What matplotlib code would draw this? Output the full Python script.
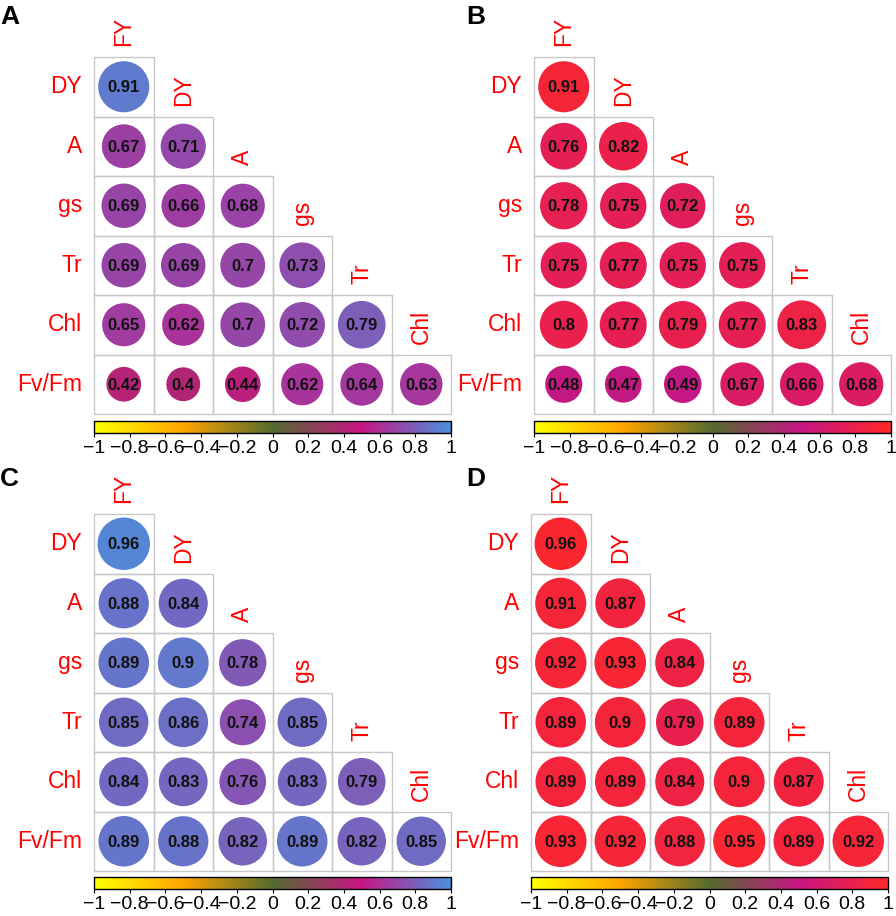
import numpy as np
import matplotlib
matplotlib.use("Agg")
from matplotlib import pyplot as plt
from matplotlib.patches import Circle, Rectangle
from matplotlib.colors import LinearSegmentedColormap, Normalize
from matplotlib.cm import ScalarMappable

plt.rcParams['font.family'] = ['Liberation Sans', 'DejaVu Sans']

# Variable names
rowLabels = ["DY", "A", "gs", "Tr", "Chl", "Fv/Fm"]
colLabels = ["FY", "DY", "A", "gs", "Tr", "Chl"]

# Lower triangle correlations, one list per row
corrA = [[0.91],
         [0.67, 0.71],
         [0.69, 0.66, 0.68],
         [0.69, 0.69, 0.7, 0.73],
         [0.65, 0.62, 0.7, 0.72, 0.79],
         [0.42, 0.4, 0.44, 0.62, 0.64, 0.63]]
corrB = [[0.91],
         [0.76, 0.82],
         [0.78, 0.75, 0.72],
         [0.75, 0.77, 0.75, 0.75],
         [0.8, 0.77, 0.79, 0.77, 0.83],
         [0.48, 0.47, 0.49, 0.67, 0.66, 0.68]]
corrC = [[0.96],
         [0.88, 0.84],
         [0.89, 0.9, 0.78],
         [0.85, 0.86, 0.74, 0.85],
         [0.84, 0.83, 0.76, 0.83, 0.79],
         [0.89, 0.88, 0.82, 0.89, 0.82, 0.85]]
corrD = [[0.96],
         [0.91, 0.87],
         [0.92, 0.93, 0.84],
         [0.89, 0.9, 0.79, 0.89],
         [0.89, 0.89, 0.84, 0.9, 0.87],
         [0.93, 0.92, 0.88, 0.95, 0.89, 0.92]]

cbTicks  = [-1, -0.8, -0.6, -0.4, -0.2, 0, 0.2, 0.4, 0.6, 0.8, 1]
cbLabels = ["\u22121", "\u22120.8", "\u22120.6", "\u22120.4", "\u22120.2", "0",
            "0.2", "0.4", "0.6", "0.8", "1"]

W, H = 896, 916
nodes = [0.0, 0.25, 0.5, 0.75, 1.0]
cmapBlue = LinearSegmentedColormap.from_list(
    "yb", list(zip(nodes, ["#FFFF00", "#FFA500", "#556B2F", "#C71585", "#4A90DC"])))
cmapRed = LinearSegmentedColormap.from_list(
    "yr", list(zip(nodes, ["#FFFF00", "#FFA500", "#556B2F", "#C71585", "#FF2828"])))
norm = Normalize(-1, 1)

fig = plt.figure(figsize=(W / 100, H / 100), dpi=100)


def px_axes(x0, y0, w, h):
    return fig.add_axes([x0 / W, 1 - (y0 + h) / H, w / W, h / H])


def draw_panel(letter, corr, cmap, gx, gy, size, cby, lx, ly):
    n = len(rowLabels)
    ax = px_axes(gx, gy, size, size)
    ax.set_xlim(0, n)
    ax.set_ylim(n, 0)
    ax.axis("off")
    for r in range(n):
        for c in range(r + 1):
            val = corr[r][c]
            ax.add_patch(Rectangle((c, r), 1, 1, facecolor="none",
                                   edgecolor="#C8C8C8", lw=1.0, clip_on=False))
            rad = 0.45 * np.sqrt(abs(val))
            ax.add_patch(Circle((c + 0.5, r + 0.5), rad, facecolor=cmap(norm(val)),
                                edgecolor="none", clip_on=False))
            ax.text(c + 0.5, r + 0.52, "{:g}".format(val), ha="center", va="center",
                    fontsize=12, fontweight="bold", color="#111111")
        ax.text(-0.2, r + 0.5, rowLabels[r], ha="right", va="center",
                fontsize=16.5, color="#FF0000", clip_on=False)
        ax.text(r + 0.5, r - 0.18, colLabels[r], ha="center", va="bottom",
                rotation=90, fontsize=16.5, color="#FF0000", clip_on=False)

    cax = px_axes(gx, cby, size, 12)
    cb = fig.colorbar(ScalarMappable(norm=norm, cmap=cmap), cax=cax,
                      orientation="horizontal")
    cb.outline.set_linewidth(1.0)
    cb.set_ticks(cbTicks)
    cb.set_ticklabels(cbLabels)
    cax.tick_params(axis="x", length=3, width=0.8, pad=2, labelsize=14)

    fig.text(lx / W, 1 - ly / H, letter, ha="left", va="top",
             fontsize=19, fontweight="bold")


draw_panel("A", corrA, cmapBlue, 94, 57, 357, 421, 0, 5)
draw_panel("B", corrB, cmapRed, 534, 57, 357, 421, 466, 5)
draw_panel("C", corrC, cmapBlue, 94, 514, 357, 877, 0, 467)
draw_panel("D", corrD, cmapRed, 531, 514, 357, 877, 466, 467)

fig.savefig("out.png", dpi=100)
